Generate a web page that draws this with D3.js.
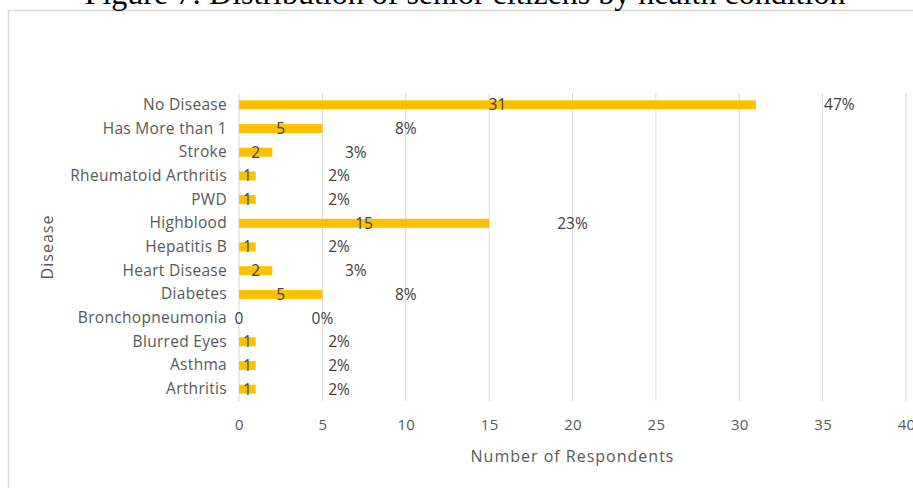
<!DOCTYPE html>
<html>
<head>
<meta charset="utf-8">
<script src="https://cdn.jsdelivr.net/npm/d3@7"></script>
<style>
  html, body { margin: 0; padding: 0; background: #fff; }
  svg { display: block; }
</style>
</head>
<body>
<svg id="chart" width="913" height="488"></svg>
<script>
// Respondents per health condition, listed top to bottom
const categories = [
  "No Disease", "Has More than 1", "Stroke", "Rheumatoid Arthritis", "PWD",
  "Highblood", "Hepatitis B", "Heart Disease", "Diabetes", "Bronchopneumonia",
  "Blurred Eyes", "Asthma", "Arthritis"
];
const counts = [31, 5, 2, 1, 1, 15, 1, 2, 5, 0, 1, 1, 1];
const xTicks = [0, 5, 10, 15, 20, 25, 30, 35, 40];

const total = d3.sum(counts);
const percents = counts.map(v => Math.round(v / total * 100) + "%");

const svg = d3.select("#chart");
const W = 913, H = 488;
const labelFont = "'Open Sans', 'Noto Sans', sans-serif";
const textColor = "#595959";

// chart frame
svg.append("rect")
  .attr("x", 8.5).attr("y", 10.5)
  .attr("width", W + 20).attr("height", H + 20)
  .attr("fill", "#fff").attr("stroke", "#d9d9d9").attr("stroke-width", 1.5);

// title
svg.append("text")
  .attr("x", 465).attr("y", 4)
  .attr("text-anchor", "middle")
  .attr("font-family", "'Liberation Serif', 'Times New Roman', serif")
  .attr("font-size", 32)
  .attr("fill", "#000")
  .text("Figure 7: Distribution of senior citizens by health condition");

const plot = { left: 239, right: 906, top: 93, bottom: 401 };

const x = d3.scaleLinear().domain([0, 40]).range([plot.left, plot.right]);
const y = d3.scaleBand().domain(categories).range([plot.top, plot.bottom]).paddingInner(0.62).paddingOuter(0.31);

// vertical gridlines
svg.append("g")
  .selectAll("line")
  .data(xTicks)
  .join("line")
  .attr("x1", d => x(d)).attr("x2", d => x(d))
  .attr("y1", plot.top).attr("y2", plot.bottom)
  .attr("stroke", "#d9d9d9").attr("stroke-width", 1);

// x axis tick labels
const xAxis = d3.axisBottom(x).tickValues(xTicks).tickSize(0).tickPadding(0);
const gx = svg.append("g")
  .attr("transform", `translate(0,${plot.bottom + 29})`)
  .call(xAxis);
gx.select(".domain").remove();
gx.selectAll("text")
  .attr("font-family", labelFont).attr("font-size", 15)
  .attr("letter-spacing", 0.3)
  .attr("fill", textColor).attr("dy", 0);

// y axis category labels
const yAxis = d3.axisLeft(y).tickSize(0).tickPadding(12);
const gy = svg.append("g")
  .attr("transform", `translate(${plot.left},0)`)
  .call(yAxis);
gy.select(".domain").remove();
gy.selectAll("text")
  .attr("font-family", labelFont).attr("font-size", 15.5)
  .attr("letter-spacing", 0.3)
  .attr("fill", textColor);

// bars
svg.append("g")
  .selectAll("rect")
  .data(categories)
  .join("rect")
  .attr("x", x(0))
  .attr("y", d => y(d))
  .attr("width", (d, i) => x(counts[i]) - x(0))
  .attr("height", y.bandwidth())
  .attr("fill", "#ffc000");

// count labels, centred on each bar
svg.append("g")
  .selectAll("text")
  .data(categories)
  .join("text")
  .attr("x", (d, i) => x(counts[i] / 2))
  .attr("y", d => y(d) + y.bandwidth() / 2)
  .attr("dy", "0.35em")
  .attr("text-anchor", "middle")
  .attr("font-family", labelFont).attr("font-size", 15.5)
  .attr("fill", "#404040")
  .text((d, i) => counts[i]);

// share labels, placed a fixed span past each bar end
const shareOffset = 5;
svg.append("g")
  .selectAll("text")
  .data(categories)
  .join("text")
  .attr("x", (d, i) => x(counts[i] + shareOffset))
  .attr("y", d => y(d) + y.bandwidth() / 2)
  .attr("dy", "0.35em")
  .attr("text-anchor", "middle")
  .attr("font-family", labelFont).attr("font-size", 15.5)
  .attr("fill", "#404040")
  .text((d, i) => percents[i]);

// axis titles
svg.append("text")
  .attr("x", (plot.left + plot.right) / 2).attr("y", 462)
  .attr("text-anchor", "middle")
  .attr("font-family", labelFont).attr("font-size", 16)
  .attr("letter-spacing", 1)
  .attr("fill", textColor)
  .text("Number of Respondents");

svg.append("text")
  .attr("transform", `translate(53,${(plot.top + plot.bottom) / 2}) rotate(-90)`)
  .attr("text-anchor", "middle")
  .attr("font-family", labelFont).attr("font-size", 16)
  .attr("letter-spacing", 1)
  .attr("fill", textColor)
  .text("Disease");
</script>
</body>
</html>
